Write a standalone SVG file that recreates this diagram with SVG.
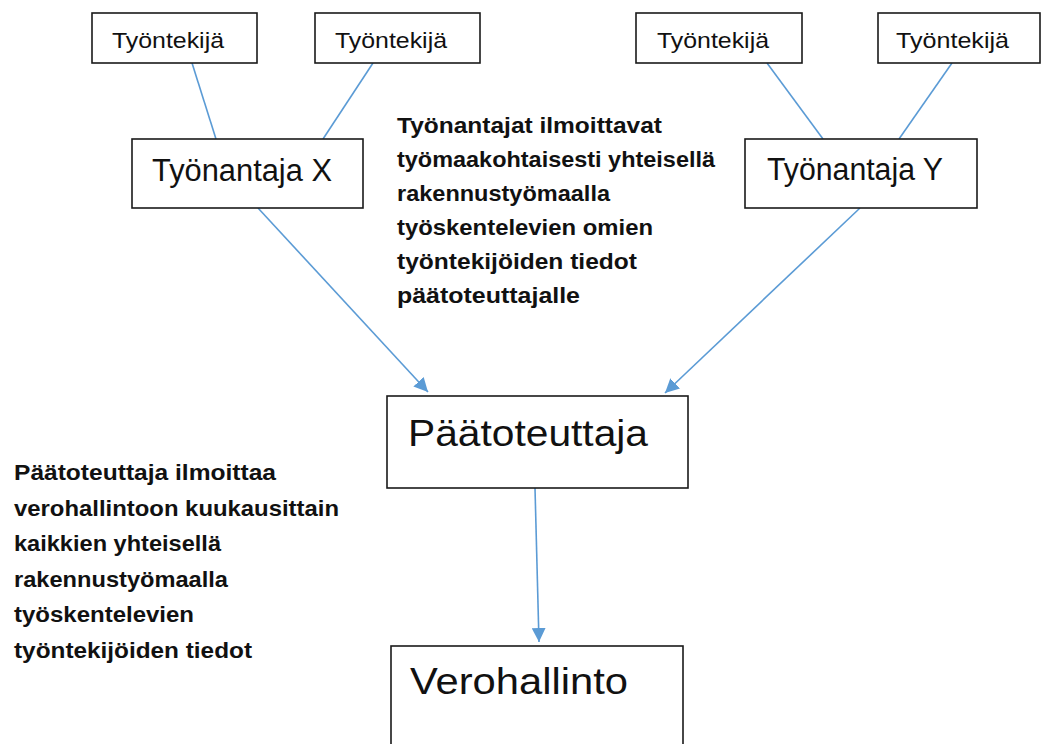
<svg xmlns="http://www.w3.org/2000/svg" width="1043" height="744" viewBox="0 0 1043 744">
<style>
.box{fill:#fff;stroke:#1a1a1a;stroke-width:1.6}
.lbl{font-family:"Liberation Sans",Arial,sans-serif;fill:#111}
.note{font-family:"Liberation Sans",Arial,sans-serif;font-weight:bold;font-size:22px;fill:#111}
.con{stroke:#5B9BD5;stroke-width:1.6;fill:none}
</style>
<defs>
<marker id="ah2" viewBox="0 0 10 10" refX="10" refY="5" markerWidth="14" markerHeight="14" markerUnits="userSpaceOnUse" orient="auto">
<path d="M0,0 L10,5 L0,10 z" fill="#5B9BD5"/>
</marker>
</defs>
<rect width="1043" height="744" fill="#fff"/>
<g id="connectors">
<line class="con" x1="192" y1="63" x2="216" y2="139"/>
<line class="con" x1="373" y1="63" x2="323" y2="139"/>
<line class="con" x1="767" y1="63" x2="823" y2="139"/>
<line class="con" x1="952" y1="63" x2="899" y2="139"/>
<line class="con" x1="258" y1="208" x2="428" y2="392" marker-end="url(#ah2)"/>
<line class="con" x1="860" y1="208" x2="665" y2="393" marker-end="url(#ah2)"/>
<line class="con" x1="535" y1="488" x2="539" y2="642" marker-end="url(#ah2)"/>
</g>
<g id="tyontekija1"><rect class="box" x="92" y="13" width="165" height="50"/><text class="lbl" x="112" y="48" font-size="22" textLength="112" lengthAdjust="spacingAndGlyphs">Työntekijä</text></g>
<g id="tyontekija2"><rect class="box" x="315" y="13" width="165" height="50"/><text class="lbl" x="335" y="48" font-size="22" textLength="112" lengthAdjust="spacingAndGlyphs">Työntekijä</text></g>
<g id="tyontekija3"><rect class="box" x="636" y="13" width="166" height="50"/><text class="lbl" x="657" y="48" font-size="22" textLength="112" lengthAdjust="spacingAndGlyphs">Työntekijä</text></g>
<g id="tyontekija4"><rect class="box" x="878" y="13" width="162" height="50"/><text class="lbl" x="896" y="48" font-size="22" textLength="113" lengthAdjust="spacingAndGlyphs">Työntekijä</text></g>
<g id="tyonantajaX"><rect class="box" x="132" y="139" width="231" height="69"/><text class="lbl" x="152" y="181" font-size="31" textLength="180" lengthAdjust="spacingAndGlyphs">Työnantaja X</text></g>
<g id="tyonantajaY"><rect class="box" x="745" y="139" width="232" height="69"/><text class="lbl" x="767" y="180" font-size="31" textLength="176" lengthAdjust="spacingAndGlyphs">Työnantaja Y</text></g>
<g id="paatoteuttaja"><rect class="box" x="387" y="396" width="301" height="92"/><text class="lbl" x="408" y="446" font-size="36" textLength="240" lengthAdjust="spacingAndGlyphs">Päätoteuttaja</text></g>
<g id="verohallinto"><rect class="box" x="391" y="646" width="292" height="110"/><text class="lbl" x="410" y="694" font-size="36" textLength="218" lengthAdjust="spacingAndGlyphs">Verohallinto</text></g>
<g id="note-tyonantajat" class="note">
<text x="397" y="133" textLength="265" lengthAdjust="spacingAndGlyphs">Työnantajat ilmoittavat</text>
<text x="397" y="167" textLength="318" lengthAdjust="spacingAndGlyphs">työmaakohtaisesti yhteisellä</text>
<text x="397" y="201" textLength="213" lengthAdjust="spacingAndGlyphs">rakennustyömaalla</text>
<text x="397" y="235" textLength="256" lengthAdjust="spacingAndGlyphs">työskentelevien omien</text>
<text x="397" y="269" textLength="240" lengthAdjust="spacingAndGlyphs">työntekijöiden tiedot</text>
<text x="397" y="303" textLength="183" lengthAdjust="spacingAndGlyphs">päätoteuttajalle</text>
</g>
<g id="note-paatoteuttaja" class="note">
<text x="14" y="480" textLength="262" lengthAdjust="spacingAndGlyphs">Päätoteuttaja ilmoittaa</text>
<text x="14" y="515.5" textLength="325" lengthAdjust="spacingAndGlyphs">verohallintoon kuukausittain</text>
<text x="14" y="551" textLength="207" lengthAdjust="spacingAndGlyphs">kaikkien yhteisellä</text>
<text x="14" y="586.5" textLength="214" lengthAdjust="spacingAndGlyphs">rakennustyömaalla</text>
<text x="14" y="622" textLength="180" lengthAdjust="spacingAndGlyphs">työskentelevien</text>
<text x="14" y="657.5" textLength="238" lengthAdjust="spacingAndGlyphs">työntekijöiden tiedot</text>
</g>
</svg>
